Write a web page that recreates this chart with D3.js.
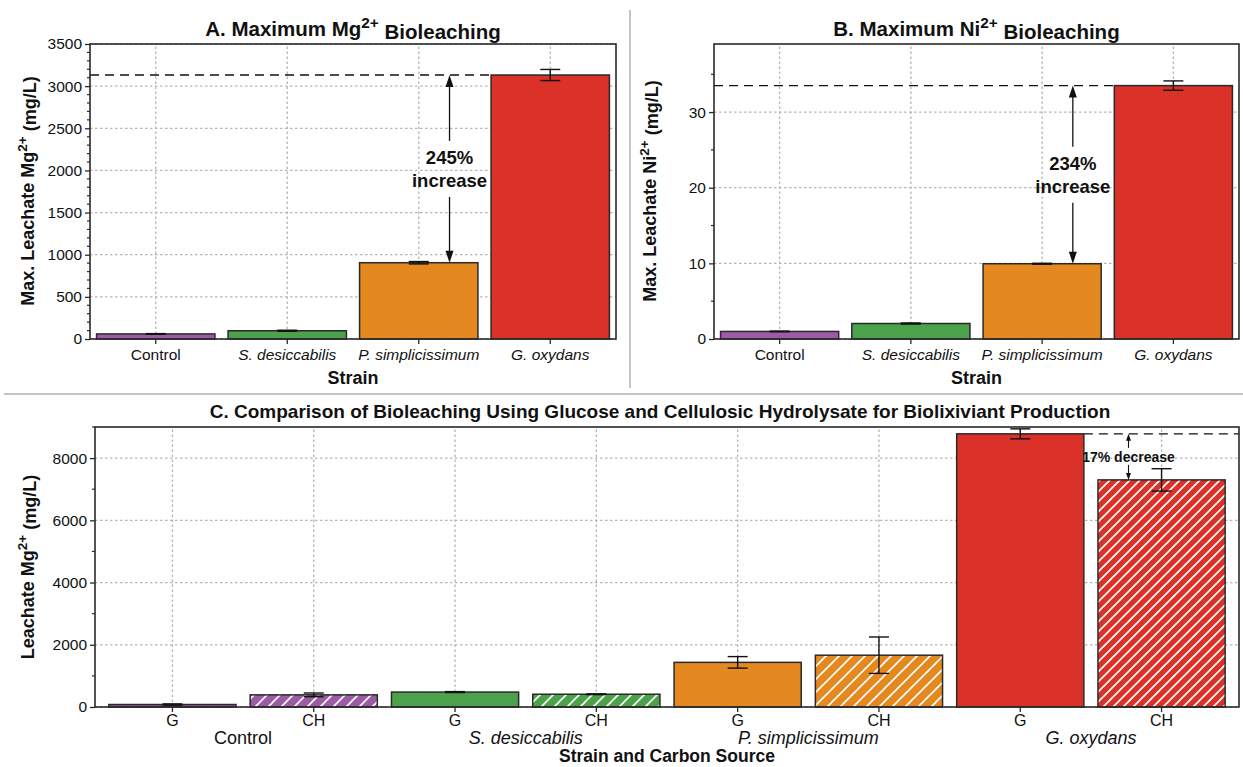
<!DOCTYPE html>
<html>
<head>
<meta charset="utf-8">
<script src="https://cdn.jsdelivr.net/npm/d3@7/dist/d3.min.js"></script>
<style>
  html, body { margin: 0; padding: 0; background: #fff; }
  svg { display: block; font-family: "Liberation Sans", Arial, Helvetica, sans-serif; }
</style>
</head>
<body>
<svg id="chart" width="1243" height="767"></svg>
<script>
// ---------------- DATA ----------------
const strains = ["Control", "S. desiccabilis", "P. simplicissimum", "G. oxydans"];
const strainColors = ["#9b5ba5", "#4ca24b", "#e3891f", "#da3128"];
const italicStrain = [false, true, true, true];

const mgMax = [60, 98, 905, 3132];
const mgErr = [4, 6, 14, 66];
const mgTicks = [0, 500, 1000, 1500, 2000, 2500, 3000, 3500];
const mgMinorTicks = d3.range(0, 3501, 100);

const niMax = [1.0, 2.05, 9.95, 33.5];
const niErr = [0.04, 0.07, 0.06, 0.62];
const niTicks = [0, 10, 20, 30];
const niMinorTicks = [5, 15, 25, 35];

const carbonSources = ["G", "CH"];
const glucoseMg = [80, 480, 1435, 8780];
const glucoseErr = [20, 15, 185, 160];
const hydrolysateMg = [390, 410, 1665, 7300];
const hydrolysateErr = [60, 12, 585, 360];
const cTicks = [0, 2000, 4000, 6000, 8000];
const cMinorTicks = d3.range(0, 9001, 1000);

const annotA = ["245%", "increase"];
const annotB = ["234%", "increase"];
const annotC = "17% decrease";

// ---------------- SETUP ----------------
const svg = d3.select("#chart");
const defs = svg.append("defs");
const FRAME = "#2a2a2a";
const TICK_FS = 15.5;

strainColors.forEach((c, i) => {
  const s = i === 3 ? 10 : 13;
  const p = defs.append("pattern")
    .attr("id", "hatch" + i)
    .attr("patternUnits", "userSpaceOnUse")
    .attr("width", s).attr("height", s);
  p.append("rect").attr("width", s).attr("height", s).attr("fill", c);
  p.append("path")
    .attr("d", `M0,${s} L${s},0 M${-s/2},${s/2} L${s/2},${-s/2} M${s/2},${1.5*s} L${1.5*s},${s/2}`)
    .attr("stroke", "#fff").attr("stroke-width", 1.6);
});

// divider lines
svg.append("line").attr("x1", 630).attr("x2", 630).attr("y1", 10).attr("y2", 388)
  .attr("stroke", "#c4c4c4").attr("stroke-width", 2);
svg.append("line").attr("x1", 4).attr("x2", 1243).attr("y1", 394).attr("y2", 394)
  .attr("stroke", "#c4c4c4").attr("stroke-width", 2);

function grid(g, x, y, yTicks, xTickPositions) {
  const [x0, x1] = x.range();
  const [yb, yt] = y.range();
  yTicks.forEach(t => {
    g.append("line").attr("x1", x0).attr("x2", x1).attr("y1", y(t)).attr("y2", y(t))
      .attr("stroke", "#b5b5b5").attr("stroke-width", 1.3).attr("stroke-dasharray", "2.5,2.5");
  });
  xTickPositions.forEach(px => {
    g.append("line").attr("x1", px).attr("x2", px).attr("y1", yb).attr("y2", yt)
      .attr("stroke", "#b5b5b5").attr("stroke-width", 1.3).attr("stroke-dasharray", "2.5,2.5");
  });
}

function drawAxes(g, x, y, yTicks, yMinor, xTickPositions) {
  const [x0, x1] = x.range();
  const [yb, yt] = y.range();
  const yAxis = d3.axisLeft(y).tickValues(yTicks).tickSize(5).tickPadding(3).tickFormat(d3.format("d"));
  const ya = g.append("g").attr("transform", `translate(${x0},0)`).call(yAxis);
  ya.select(".domain").remove();
  ya.selectAll(".tick line").attr("stroke", FRAME).attr("stroke-width", 1.3);
  ya.selectAll(".tick text").attr("font-size", TICK_FS).attr("fill", "#111")
    .attr("font-family", "'Liberation Sans', Arial, sans-serif");
  const minor = yMinor.filter(v => !yTicks.includes(v) && v <= y.domain()[1]);
  g.selectAll(null).data(minor).enter().append("line")
    .attr("x1", x0 - 3).attr("x2", x0).attr("y1", d => y(d)).attr("y2", d => y(d))
    .attr("stroke", FRAME).attr("stroke-width", 1.2);
  xTickPositions.forEach(px => {
    g.append("line").attr("x1", px).attr("x2", px).attr("y1", yb).attr("y2", yb + 5)
      .attr("stroke", FRAME).attr("stroke-width", 1.3);
  });
}

function frame(g, x, y) {
  const [x0, x1] = x.range();
  const [yb, yt] = y.range();
  g.append("rect").attr("x", x0).attr("y", yt).attr("width", x1 - x0).attr("height", yb - yt)
    .attr("fill", "none").attr("stroke", FRAME).attr("stroke-width", 1.6);
}

function errorBar(g, cx, y, v, e, cap) {
  g.append("line").attr("x1", cx).attr("x2", cx).attr("y1", y(v - e)).attr("y2", y(v + e))
    .attr("stroke", "#111").attr("stroke-width", 1.4);
  [v - e, v + e].forEach(t => {
    g.append("line").attr("x1", cx - cap).attr("x2", cx + cap).attr("y1", y(t)).attr("y2", y(t))
      .attr("stroke", "#111").attr("stroke-width", 1.4);
  });
}

function arrowHead(g, x, yTip, dir, len, w) {
  g.append("path")
    .attr("d", `M${x},${yTip} L${x - w/2},${yTip - dir*len} L${x + w/2},${yTip - dir*len} Z`)
    .attr("fill", "#111");
}

function supTitle(g, x, y, pre, sup, post, size, rotate) {
  const t = g.append("text").attr("x", x).attr("y", y).attr("text-anchor", "middle")
    .attr("font-size", size).attr("font-weight", "bold").attr("fill", "#111");
  if (rotate) t.attr("transform", `rotate(-90,${x},${y})`);
  t.append("tspan").text(pre);
  t.append("tspan").attr("dy", "-0.5em").attr("font-size", size * 0.75).text(sup);
  t.append("tspan").attr("dy", "0.5em").text(post);
  return t;
}

// ---------------- PANELS A & B ----------------
function strainPanel(opts) {
  const g = svg.append("g");
  const x = d3.scaleBand().domain(strains).range([opts.x0, opts.x1]).paddingInner(0.1).paddingOuter(0.05);
  const y = d3.scaleLinear().domain([0, opts.yMax]).range([339, 44]);
  const centers = strains.map(s => x(s) + x.bandwidth() / 2);
  grid(g, x, y, opts.ticks, centers);
  const top = opts.values[3];
  g.append("line").attr("x1", opts.x0).attr("x2", x(strains[3])).attr("y1", y(top)).attr("y2", y(top))
    .attr("stroke", "#111").attr("stroke-width", 1.4).attr("stroke-dasharray", "9,6");
  g.selectAll(null).data(strains).enter().append("rect")
    .attr("x", d => x(d)).attr("width", x.bandwidth())
    .attr("y", (d, i) => y(opts.values[i]))
    .attr("height", (d, i) => y(0) - y(opts.values[i]))
    .attr("fill", (d, i) => strainColors[i])
    .attr("stroke", FRAME).attr("stroke-width", 1.5);
  strains.forEach((s, i) => errorBar(g, centers[i], y, opts.values[i], opts.errors[i], 10));
  drawAxes(g, x, y, opts.ticks, opts.minor, centers);
  frame(g, x, y);
  // annotation arrow
  const ax = x(strains[2]) + x.bandwidth() * 0.76;
  const yTop = y(opts.values[3]), yBot = y(opts.values[2]);
  const mid = (yTop + yBot) / 2;
  g.append("line").attr("x1", ax).attr("x2", ax).attr("y1", yTop + 8).attr("y2", mid - 28)
    .attr("stroke", "#111").attr("stroke-width", 1.3);
  g.append("line").attr("x1", ax).attr("x2", ax).attr("y1", mid + 28).attr("y2", yBot - 8)
    .attr("stroke", "#111").attr("stroke-width", 1.3);
  arrowHead(g, ax, yTop, -1, 12, 8);
  arrowHead(g, ax, yBot, 1, 12, 8);
  g.append("text").attr("x", ax).attr("y", mid - 5).attr("text-anchor", "middle")
    .attr("font-size", 18.5).attr("font-weight", "bold").attr("fill", "#111").text(opts.annot[0]);
  g.append("text").attr("x", ax).attr("y", mid + 18).attr("text-anchor", "middle")
    .attr("font-size", 18.5).attr("font-weight", "bold").attr("fill", "#111").text(opts.annot[1]);
  strains.forEach((s, i) => {
    g.append("text").attr("x", centers[i]).attr("y", 360).attr("text-anchor", "middle")
      .attr("font-size", TICK_FS).attr("fill", "#111")
      .attr("font-style", italicStrain[i] ? "italic" : "normal").text(s);
  });
  g.append("text").attr("x", (opts.x0 + opts.x1) / 2).attr("y", 384).attr("text-anchor", "middle")
    .attr("font-size", 18).attr("font-weight", "bold").attr("fill", "#111").text("Strain");
  supTitle(g, (opts.x0 + opts.x1) / 2, 36, opts.titlePre, "2+", " Bioleaching", 20.5, false);
  supTitle(g, opts.ylabX, 191, opts.ylabPre, "2+", " (mg/L)", 18, true);
}

strainPanel({
  x0: 90, x1: 616, yMax: 3500, ticks: mgTicks, minor: mgMinorTicks,
  values: mgMax, errors: mgErr, annot: annotA,
  titlePre: "A. Maximum Mg", ylabPre: "Max. Leachate Mg", ylabX: 34
});
strainPanel({
  x0: 714, x1: 1239, yMax: 39, ticks: niTicks, minor: niMinorTicks,
  values: niMax, errors: niErr, annot: annotB,
  titlePre: "B. Maximum Ni", ylabPre: "Max. Leachate Ni", ylabX: 656
});

// ---------------- PANEL C ----------------
(function () {
  const g = svg.append("g");
  const cats = [];
  strains.forEach(s => carbonSources.forEach(c => cats.push(s + "|" + c)));
  const vals = [], errs = [], colorIdx = [], hatched = [];
  strains.forEach((s, i) => {
    vals.push(glucoseMg[i], hydrolysateMg[i]);
    errs.push(glucoseErr[i], hydrolysateErr[i]);
    colorIdx.push(i, i);
    hatched.push(false, true);
  });
  const x = d3.scaleBand().domain(cats).range([95, 1239]).paddingInner(0.1).paddingOuter(0.098);
  const y = d3.scaleLinear().domain([0, 9000]).range([707, 427]);
  const centers = cats.map(c => x(c) + x.bandwidth() / 2);
  grid(g, x, y, cTicks, centers);
  g.append("line").attr("x1", x(cats[6]) + x.bandwidth()).attr("x2", 1239)
    .attr("y1", y(vals[6])).attr("y2", y(vals[6]))
    .attr("stroke", "#111").attr("stroke-width", 1.4).attr("stroke-dasharray", "9,6");
  g.selectAll(null).data(cats).enter().append("rect")
    .attr("x", d => x(d)).attr("width", x.bandwidth())
    .attr("y", (d, i) => y(vals[i])).attr("height", (d, i) => y(0) - y(vals[i]))
    .attr("fill", (d, i) => hatched[i] ? `url(#hatch${colorIdx[i]})` : strainColors[colorIdx[i]])
    .attr("stroke", FRAME).attr("stroke-width", 1.5);
  cats.forEach((c, i) => errorBar(g, centers[i], y, vals[i], errs[i], 10));
  drawAxes(g, x, y, cTicks, cMinorTicks, centers);
  frame(g, x, y);
  const ax = x(cats[7]) + x.bandwidth() * 0.24;
  const yTop = y(vals[6]), yBot = y(vals[7]);
  const mid = (yTop + yBot) / 2;
  g.append("line").attr("x1", ax).attr("x2", ax).attr("y1", yTop + 5).attr("y2", mid - 9)
    .attr("stroke", "#111").attr("stroke-width", 1.1);
  g.append("line").attr("x1", ax).attr("x2", ax).attr("y1", mid + 8).attr("y2", yBot - 5)
    .attr("stroke", "#111").attr("stroke-width", 1.1);
  arrowHead(g, ax, yTop, -1, 7, 5);
  arrowHead(g, ax, yBot, 1, 7, 5);
  g.append("text").attr("x", ax).attr("y", mid + 5).attr("text-anchor", "middle")
    .attr("font-size", 14).attr("font-weight", "bold").attr("fill", "#111").text(annotC);
  cats.forEach((c, i) => {
    g.append("text").attr("x", centers[i]).attr("y", 726).attr("text-anchor", "middle")
      .attr("font-size", 16).attr("fill", "#111").text(c.split("|")[1]);
  });
  strains.forEach((s, i) => {
    const cx = (centers[2*i] + centers[2*i + 1]) / 2;
    g.append("text").attr("x", cx).attr("y", 744).attr("text-anchor", "middle")
      .attr("font-size", 18).attr("fill", "#111")
      .attr("font-style", italicStrain[i] ? "italic" : "normal").text(s);
  });
  g.append("text").attr("x", (95 + 1239) / 2).attr("y", 762).attr("text-anchor", "middle")
    .attr("font-size", 17.5).attr("font-weight", "bold").attr("fill", "#111").text("Strain and Carbon Source");
  g.append("text").attr("x", 660).attr("y", 418).attr("text-anchor", "middle")
    .attr("font-size", 19).attr("font-weight", "bold").attr("fill", "#111")
    .text("C. Comparison of Bioleaching Using Glucose and Cellulosic Hydrolysate for Biolixiviant Production");
  supTitle(g, 34, 567, "Leachate Mg", "2+", " (mg/L)", 18, true);
})();
</script>
</body>
</html>
